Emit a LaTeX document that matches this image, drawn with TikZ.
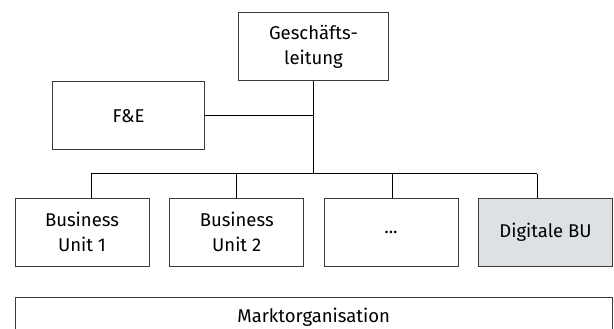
\documentclass[tikz,border=0pt]{standalone}
\usepackage{fontspec}
\setmainfont{Fira Sans}
\definecolor{boxline}{HTML}{3A3A3A}
\definecolor{digifill}{HTML}{DEE1E4}
\begin{document}
\begin{tikzpicture}[x=1pt,y=-1pt,
  box/.style={draw=boxline, line width=0.9pt, inner sep=0pt, align=center,
    font=\fontsize{18.5}{25}\selectfont, minimum height=68pt},
  smallbox/.style={box, minimum width=134pt},
  conn/.style={draw=black, line width=0.9pt},
  lbl/.style={font=\fontsize{18.5}{25}\selectfont, inner sep=0pt}]
\useasboundingbox (0,0) rectangle (614,329);
\clip (0,0) rectangle (614,329);
\node[box, minimum width=150.4pt] (ge) at (313.5,46.7) {Geschäfts-\\leitung};
\node[box, minimum width=151.6pt] (fe) at (128.5,115.7) {F\&E};
\node[smallbox] (b1) at (82,232.2) {Business\\Unit 1};
\node[smallbox] (b2) at (236.7,232.2) {Business\\Unit 2};
\node[smallbox] (b3) at (391,232.2) {...};
\node[smallbox, fill=digifill] (b4) at (545.5,232.2) {Digitale BU};
\node[draw=boxline, line width=0.9pt, minimum width=597.3pt, minimum height=60pt, anchor=north, inner sep=0pt] (markt) at (313.65,296.7) {};
\node[lbl, anchor=base] (marktlabel) at (313.65,322.7) {Marktorganisation};
\coordinate (d1) at (91,173.7);
\coordinate (d2) at (236.7,173.7);
\coordinate (d3) at (392,173.7);
\coordinate (d4) at (537.3,173.7);
\draw[conn] (ge.south) -- (ge.south |- d1);
\draw[conn] (fe.east) -- (fe.east -| ge.south);
\draw[conn] (d1) -- (d4);
\draw[conn] (d1) -- (d1 |- b1.north);
\draw[conn] (d2) -- (d2 |- b2.north);
\draw[conn] (d3) -- (d3 |- b3.north);
\draw[conn] (d4) -- (d4 |- b4.north);
\end{tikzpicture}
\end{document}
